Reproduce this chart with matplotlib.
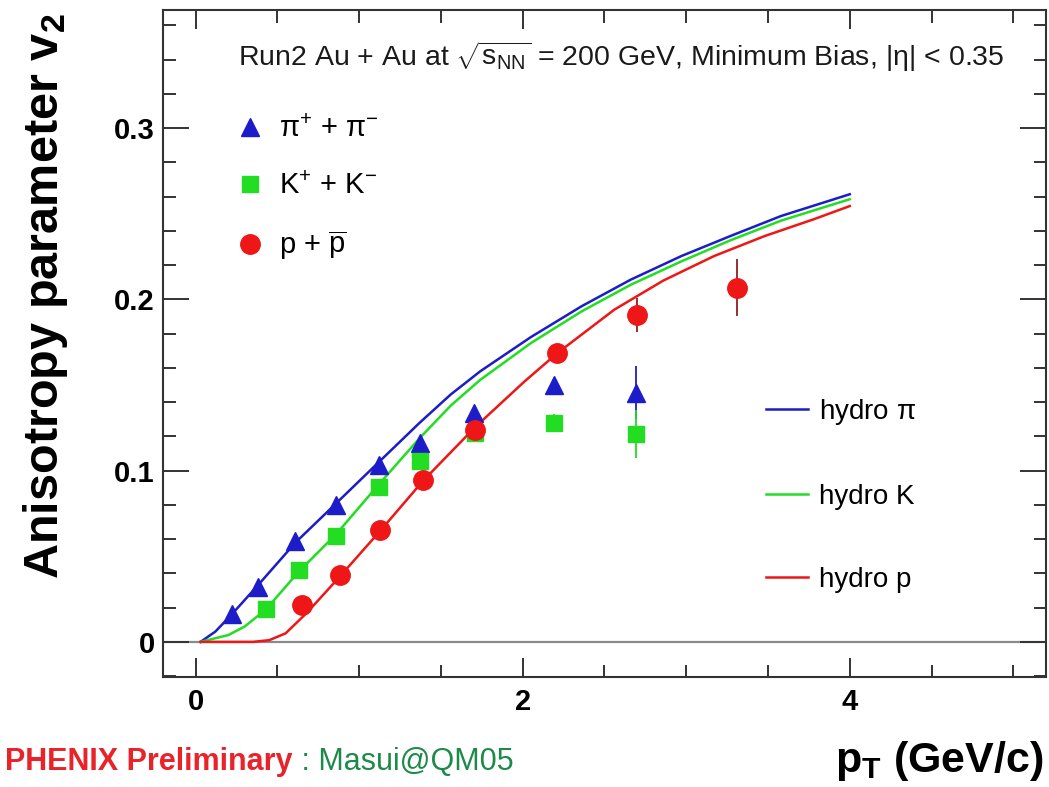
import numpy as np
import matplotlib
matplotlib.use("Agg")
import matplotlib.pyplot as plt
from matplotlib.ticker import MultipleLocator, FuncFormatter

plt.rcParams['font.family'] = ['Liberation Sans', 'DejaVu Sans']
plt.rcParams['mathtext.fontset'] = 'custom'
plt.rcParams['mathtext.rm'] = 'Liberation Sans'
plt.rcParams['mathtext.it'] = 'Liberation Sans:italic'
plt.rcParams['mathtext.bf'] = 'Liberation Sans:bold'

# measured v2 (PHENIX preliminary, min. bias)
pi_pt = [0.22, 0.38, 0.61, 0.86, 1.12, 1.37, 1.70, 2.19, 2.69]
pi_v2 = [0.016, 0.032, 0.0587, 0.080, 0.1035, 0.116, 0.1337, 0.150, 0.1454]
pi_err = [0.001, 0.001, 0.001, 0.001, 0.002, 0.002, 0.003, 0.004, 0.0155]

k_pt = [0.43, 0.63, 0.86, 1.12, 1.37, 1.71, 2.19, 2.69]
k_v2 = [0.019, 0.0417, 0.062, 0.0905, 0.1055, 0.122, 0.128, 0.1216]
k_err = [0.001, 0.001, 0.001, 0.002, 0.002, 0.003, 0.005, 0.014]

p_pt = [0.65, 0.88, 1.13, 1.39, 1.71, 2.21, 2.70, 3.31]
p_v2 = [0.0216, 0.039, 0.0655, 0.0947, 0.1236, 0.1688, 0.191, 0.2068]
p_err = [0.001, 0.001, 0.002, 0.002, 0.003, 0.005, 0.0098, 0.0166]

# hydro curves
hpi_pt = [0.03, 0.12, 0.22, 0.38, 0.61, 0.86, 1.12, 1.37, 1.56, 1.74, 2.05, 2.36, 2.66, 2.97, 3.27, 3.58, 4.0]
hpi_v2 = [0.0, 0.006, 0.016, 0.033, 0.058, 0.081, 0.105, 0.128, 0.1445, 0.158, 0.178, 0.196, 0.2115, 0.2253, 0.237, 0.2487, 0.2614]

hk_pt = [0.03, 0.2, 0.3, 0.43, 0.63, 0.86, 1.12, 1.37, 1.56, 1.74, 2.05, 2.36, 2.66, 2.97, 3.27, 3.58, 4.0]
hk_v2 = [0.0, 0.004, 0.009, 0.019, 0.041, 0.063, 0.092, 0.119, 0.138, 0.153, 0.1745, 0.193, 0.2085, 0.2222, 0.2345, 0.246, 0.2585]

hp_pt = [0.03, 0.35, 0.45, 0.55, 0.68, 0.88, 1.13, 1.39, 1.71, 2.01, 2.21, 2.56, 2.86, 3.17, 3.48, 3.78, 4.0]
hp_v2 = [0.0, 0.0, 0.001, 0.005, 0.017, 0.038, 0.065, 0.094, 0.1255, 0.152, 0.1685, 0.194, 0.211, 0.2253, 0.237, 0.2468, 0.2545]

c_pi = '#1c1cc8'
c_k = '#22dd22'
c_p = '#ee1616'

fig = plt.figure(figsize=(10.49, 7.87), dpi=100)
ax = fig.add_axes([0.1554, 0.1398, 0.8417, 0.8475])

ax.axhline(0, color='#8a8a8a', lw=1.6, zorder=1)

l_pi, = ax.plot(hpi_pt, hpi_v2, color=c_pi, lw=1.8, zorder=2)
l_k, = ax.plot(hk_pt, hk_v2, color=c_k, lw=1.8, zorder=2)
l_p, = ax.plot(hp_pt, hp_v2, color=c_p, lw=1.8, zorder=2)

ax.errorbar(pi_pt, pi_v2, yerr=pi_err, fmt='none', ecolor=c_pi, elinewidth=1.3, zorder=3)
ax.errorbar(k_pt, k_v2, yerr=k_err, fmt='none', ecolor=c_k, elinewidth=1.3, zorder=3)
ax.errorbar(p_pt, p_v2, yerr=p_err, fmt='none', ecolor='#8a2020', elinewidth=1.3, zorder=3)

m_pi, = ax.plot(pi_pt, pi_v2, ls='none', marker='^', ms=13, color=c_pi, mec=c_pi, zorder=4)
m_k, = ax.plot(k_pt, k_v2, ls='none', marker='s', ms=12, color=c_k, mec=c_k, zorder=4)
m_p, = ax.plot(p_pt, p_v2, ls='none', marker='o', ms=14, color=c_p, mec=c_p, zorder=4)

ax.set_xlim(-0.2, 5.2)
ax.set_ylim(-0.0205, 0.369)

ax.set_xticks([0, 2, 4])
ax.xaxis.set_minor_locator(MultipleLocator(0.5))
ax.yaxis.set_major_locator(MultipleLocator(0.1))
ax.yaxis.set_minor_locator(MultipleLocator(0.02))
ax.yaxis.set_major_formatter(FuncFormatter(lambda v, pos: '0' if abs(v) < 1e-9 else f'{v:g}'))

ax.tick_params(which='both', direction='in', top=True, right=True, width=1.4, color='#333333')
ax.tick_params(axis='y', which='major', length=19, pad=6)
ax.tick_params(axis='y', which='minor', length=9)
ax.tick_params(axis='x', which='major', length=14, pad=8)
ax.tick_params(axis='x', which='minor', length=9)
for lab in ax.get_xticklabels() + ax.get_yticklabels():
    lab.set_fontsize(21)
    lab.set_fontweight('bold')

for sp in ax.spines.values():
    sp.set_linewidth(1.5)
    sp.set_color('#333333')

ax.text(0.5187, 0.9295,
        r'Run2 Au + Au at $\sqrt{\mathrm{s}_{\mathrm{NN}}}$ = 200 GeV, Minimum Bias, $|\mathrm{\eta}|$ < 0.35',
        transform=ax.transAxes, ha='center', va='center', fontsize=20.5, color='#1a1a1a')

leg1 = ax.legend([m_pi, m_k, m_p],
                 [r'$\mathrm{\pi}^{+}$ + $\mathrm{\pi}^{-}$', r'K$^{+}$ + K$^{-}$', r'p + $\overline{\mathrm{p}}$'],
                 loc='upper left', bbox_to_anchor=(0.083, 0.842), frameon=False, fontsize=21,
                 handlelength=0.95, handletextpad=0.5, labelspacing=0.98, borderpad=0,
                 borderaxespad=0, numpoints=1)
ax.add_artist(leg1)

ax.legend([l_pi, l_k, l_p], [r'hydro $\mathrm{\pi}$', 'hydro K', 'hydro p'],
          loc='upper left', bbox_to_anchor=(0.683, 0.4195), frameon=False, fontsize=20,
          handlelength=1.5, handletextpad=0.4, labelspacing=2.05, borderpad=0,
          borderaxespad=0)

fig.text(0.043, 0.624, r'Anisotropy parameter $\mathbf{v_{2}}$', rotation=90,
         ha='center', va='center', fontsize=35, fontweight='bold')
fig.text(0.995, 0.033, r'$\mathbf{p_{T}}$ (GeV/c)', ha='right', va='center',
         fontsize=31, fontweight='bold')

t1 = fig.text(0.005, 0.032, 'PHENIX Preliminary', ha='left', va='center',
              fontsize=22, fontweight='bold', color='#e8232a')
ax.annotate(' : Masui@QM05', xy=(1, 0.5), xycoords=t1, ha='left', va='center',
            fontsize=22, color='#1e8a4a', annotation_clip=False)

fig.savefig('out.png', dpi=100)
